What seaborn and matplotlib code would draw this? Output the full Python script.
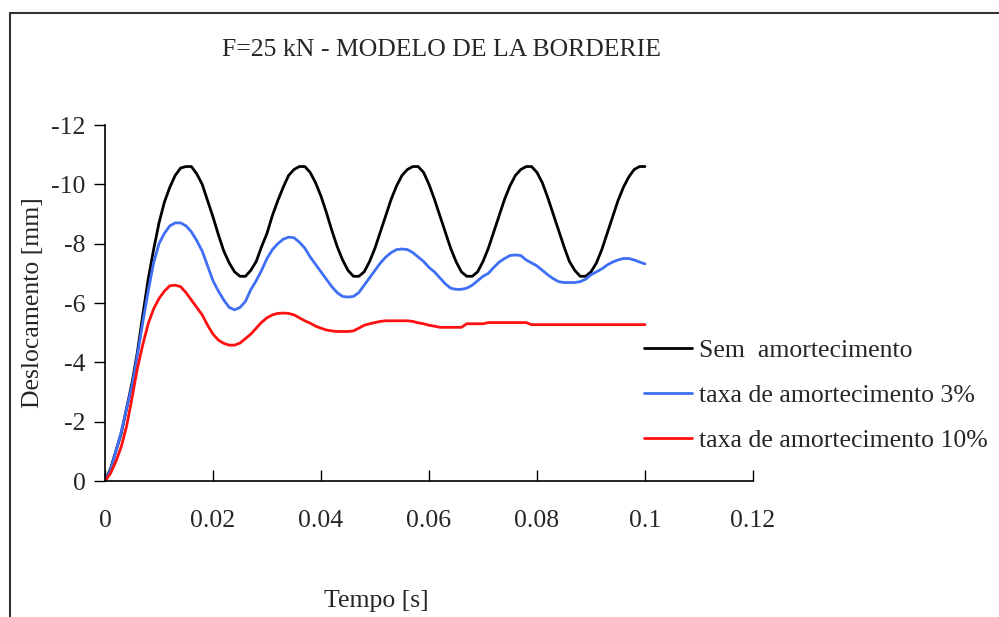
import numpy as np
import pandas as pd
import seaborn as sns
import matplotlib.pyplot as plt
from matplotlib.patches import Rectangle
from matplotlib.ticker import FuncFormatter

sns.set_theme(style="white")
plt.rcParams['font.family'] = ['Liberation Serif', 'DejaVu Serif']
plt.rcParams['axes.unicode_minus'] = False

# time [s], one sample per ms
tempo = np.arange(101) / 1000.0

# displacement [mm]
sem_amort = [
    0, -0.4, -1.0, -1.6, -2.45, -3.3, -4.35, -5.6, -6.8, -7.8,
    -8.7, -9.4, -9.9, -10.3, -10.55, -10.6, -10.6, -10.35, -10.0, -9.45,
    -8.9, -8.3, -7.75, -7.35, -7.05, -6.9, -6.9, -7.1, -7.4, -7.9,
    -8.35, -8.95, -9.45, -9.9, -10.3, -10.5, -10.6, -10.6, -10.4, -10.05,
    -9.6, -9.05, -8.45, -7.9, -7.45, -7.1, -6.9, -6.9, -7.05, -7.4,
    -7.85, -8.4, -8.95, -9.5, -9.95, -10.3, -10.5, -10.6, -10.6, -10.4,
    -10.0, -9.5, -8.95, -8.4, -7.85, -7.4, -7.05, -6.9, -6.9, -7.05,
    -7.4, -7.85, -8.4, -8.95, -9.5, -9.95, -10.3, -10.5, -10.6, -10.6,
    -10.4, -10.05, -9.55, -9.0, -8.45, -7.9, -7.4, -7.1, -6.9, -6.9,
    -7.05, -7.35, -7.8, -8.35, -8.9, -9.45, -9.9, -10.25, -10.5, -10.6,
    -10.6,
]
amort_3 = [
    0, -0.35, -1.0, -1.65, -2.45, -3.2, -4.25, -5.35, -6.4, -7.35,
    -8.0, -8.35, -8.6, -8.7, -8.7, -8.6, -8.4, -8.1, -7.75, -7.25,
    -6.75, -6.4, -6.1, -5.85, -5.77, -5.85, -6.05, -6.45, -6.75, -7.1,
    -7.5, -7.8, -8.0, -8.15, -8.22, -8.2, -8.05, -7.85, -7.55, -7.3,
    -7.05, -6.8, -6.55, -6.35, -6.22, -6.2, -6.22, -6.35, -6.6, -6.85,
    -7.1, -7.35, -7.55, -7.7, -7.8, -7.82, -7.8, -7.7, -7.55, -7.4,
    -7.2, -7.05, -6.85, -6.65, -6.5, -6.46, -6.46, -6.5, -6.6, -6.75,
    -6.9, -7.0, -7.2, -7.38, -7.5, -7.6, -7.62, -7.6, -7.45, -7.35,
    -7.25, -7.1, -6.95, -6.82, -6.72, -6.69, -6.69, -6.69, -6.72, -6.8,
    -6.95, -7.05, -7.15, -7.28, -7.38, -7.45, -7.5, -7.5, -7.45, -7.38,
    -7.32,
]
amort_10 = [
    0, -0.25, -0.65, -1.15, -1.85, -2.8, -3.8, -4.6, -5.3, -5.8,
    -6.15, -6.4, -6.58, -6.6, -6.55, -6.35, -6.1, -5.85, -5.6, -5.25,
    -4.95, -4.75, -4.64, -4.58, -4.58, -4.65, -4.8, -4.95, -5.15, -5.35,
    -5.5, -5.6, -5.65, -5.66, -5.65, -5.6, -5.5, -5.4, -5.32, -5.22,
    -5.15, -5.09, -5.06, -5.04, -5.04, -5.04, -5.06, -5.15, -5.25, -5.3,
    -5.34, -5.38, -5.4, -5.4, -5.4, -5.4, -5.4, -5.38, -5.33, -5.3,
    -5.25, -5.22, -5.18, -5.18, -5.18, -5.18, -5.18, -5.3, -5.3, -5.3,
    -5.3, -5.34, -5.34, -5.34, -5.34, -5.34, -5.34, -5.34, -5.34, -5.27,
    -5.27, -5.27, -5.27, -5.27, -5.27, -5.27, -5.27, -5.27, -5.27, -5.27,
    -5.27, -5.27, -5.27, -5.27, -5.27, -5.27, -5.27, -5.27, -5.27, -5.27,
    -5.27,
]

series = ['Sem  amortecimento', 'taxa de amortecimento 3%', 'taxa de amortecimento 10%']
colors = ['black', '#3F6FF5', '#FF1010']

df = pd.concat([
    pd.DataFrame({'t': tempo, 'd': vals, 'serie': name})
    for name, vals in zip(series, [sem_amort, amort_3, amort_10])
])

fig = plt.figure(figsize=(9.99, 6.17), dpi=100)
ax = fig.add_axes([105 / 999, 1 - 481 / 617, 648 / 999, 356 / 617])

sns.lineplot(ax=ax, data=df, x='t', y='d', hue='serie', hue_order=series,
             palette=colors, linewidth=2, estimator=None, sort=False)

ax.set_xlim(0, 0.12)
ax.set_ylim(0, -12)
ax.set_xticks([0, 0.02, 0.04, 0.06, 0.08, 0.1, 0.12])
ax.set_yticks([0, -2, -4, -6, -8, -10, -12])
fmt = FuncFormatter(lambda v, p: '%g' % v)
ax.xaxis.set_major_formatter(fmt)
ax.yaxis.set_major_formatter(fmt)

for s in ['top', 'right']:
    ax.spines[s].set_visible(False)
for s in ['left', 'bottom']:
    ax.spines[s].set_color('black')
    ax.spines[s].set_linewidth(1.2)

fs = 18.5
ax.tick_params(axis='x', direction='in', length=8, width=1, color='black',
               labelsize=fs, pad=21, bottom=True)
ax.tick_params(axis='y', direction='out', length=8, width=1, color='black',
               labelsize=fs, pad=6, left=True)

ax.set_xlabel('Tempo [s]', fontsize=fs)
ax.set_ylabel('Deslocamento [mm]', fontsize=fs)
ax.xaxis.set_label_coords(0.418, -0.306)
ax.yaxis.set_label_coords(-0.094, 0.5)

fig.text(441 / 999, 1 - 50 / 617, 'F=25 kN - MODELO DE LA BORDERIE',
         fontsize=fs, ha='center', va='center')

ax.legend(loc='upper left', bbox_to_anchor=(634 / 999, 1 - 329 / 617),
          bbox_transform=fig.transFigure, frameon=False, fontsize=fs,
          handlelength=1.85, handletextpad=0.28, labelspacing=0.86,
          borderaxespad=0)

# outer chart frame
fig.patches.append(Rectangle((10 / 999, -0.2), 1.2, 0.2 + 1 - 13 / 617,
                             transform=fig.transFigure, fill=False,
                             edgecolor='#333333', linewidth=1.5, clip_on=False))

fig.savefig('out.png', dpi=100)
